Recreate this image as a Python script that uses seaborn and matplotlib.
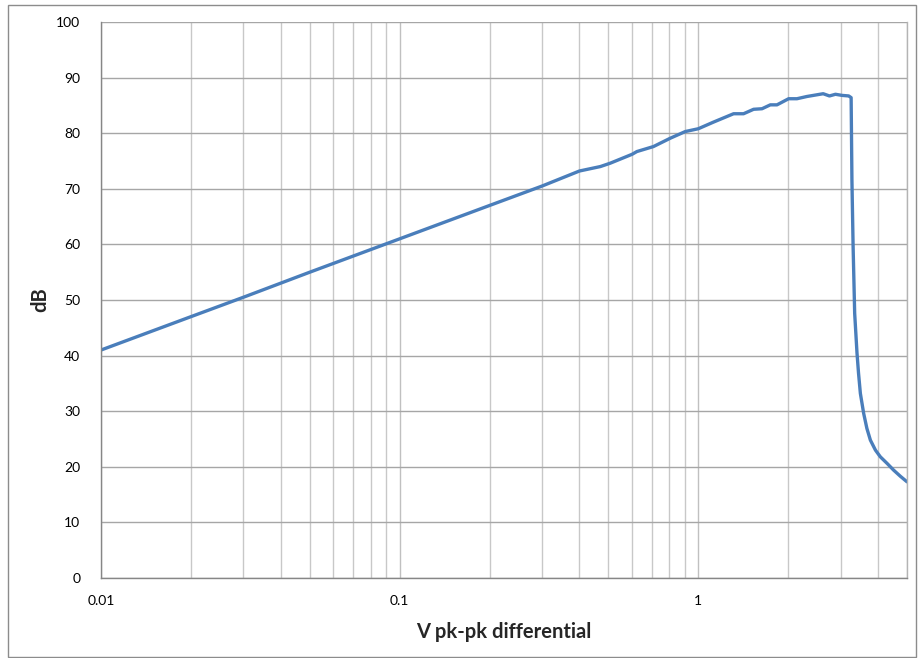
import matplotlib
matplotlib.use("Agg")
import matplotlib.pyplot as plt
from matplotlib.patches import Rectangle
from matplotlib.ticker import FixedLocator, FixedFormatter, NullFormatter
import seaborn as sns
import pandas as pd

# Data
volts = [0.01, 0.02, 0.03, 0.05, 0.1, 0.2, 0.3, 0.4, 0.47, 0.507, 0.60, 0.623,
         0.708, 0.806, 0.905, 1.0, 1.125, 1.313, 1.418, 1.532, 1.635, 1.743,
         1.835, 2.007, 2.14, 2.31, 2.62, 2.75, 2.88, 3.03, 3.19, 3.25, 3.27,
         3.30, 3.34, 3.40, 3.44, 3.49, 3.58, 3.67, 3.77, 3.92, 4.07, 4.29,
         4.51, 4.75, 5.0]
db = [41.0, 47.0, 50.5, 55.0, 61.0, 67.0, 70.5, 73.2, 74.0, 74.6, 76.2, 76.7,
      77.6, 79.1, 80.3, 80.8, 82.0, 83.5, 83.5, 84.3, 84.4, 85.1,
      85.1, 86.2, 86.2, 86.6, 87.1, 86.7, 87.0, 86.8, 86.7, 86.4, 71.6,
      59.6, 47.6, 40.5, 36.9, 33.2, 29.6, 26.9, 24.8, 23.0, 21.8, 20.6,
      19.4, 18.3, 17.3]

x_tick_values = [0.01, 0.1, 1]
x_tick_labels = ["0.01", "0.1", "1"]
y_tick_values = [0, 10, 20, 30, 40, 50, 60, 70, 80, 90, 100]
x_label = "V pk-pk differential"
y_label = "dB"

df = pd.DataFrame({"volts": volts, "db": db})

sns.set_style("white")
plt.rcParams["font.family"] = ["Lato", "DejaVu Sans"]

fig = plt.figure(figsize=(9.18, 6.58), dpi=100)
W, H = 918, 658
ax = fig.add_axes([101 / W, (H - 578) / H, (907 - 101) / W, (578 - 22) / H])

sns.lineplot(data=df, x="volts", y="db", ax=ax, color="#4A7EBB", linewidth=2.4,
             sort=False, estimator=None)

ax.set_xscale("log")
ax.set_xlim(0.01, 5)
ax.set_ylim(0, 100)

minor_x = [m * d for d in (0.01, 0.1, 1) for m in range(2, 10) if m * d <= 5.0001]
ax.xaxis.set_major_locator(FixedLocator(x_tick_values))
ax.xaxis.set_major_formatter(FixedFormatter(x_tick_labels))
ax.xaxis.set_minor_locator(FixedLocator(minor_x))
ax.xaxis.set_minor_formatter(NullFormatter())
ax.yaxis.set_major_locator(FixedLocator(y_tick_values))

ax.grid(True, which="major", axis="x", color="#C0C0C0", linewidth=1.0)
ax.grid(True, which="minor", axis="x", color="#C8C8C8", linewidth=1.0)
ax.grid(True, which="major", axis="y", color="#A6A6A6", linewidth=1.0)
ax.set_axisbelow(True)

ax.spines["top"].set_visible(False)
ax.spines["right"].set_visible(True)
ax.spines["right"].set_color("#B4B4B4")
ax.spines["right"].set_linewidth(1.0)
for side in ("left", "bottom"):
    ax.spines[side].set_color("#868686")
    ax.spines[side].set_linewidth(1.0)

ax.tick_params(axis="both", which="major", direction="out", length=5,
               width=1, color="#868686", labelsize=10, labelcolor="#000000")
ax.tick_params(axis="x", which="minor", length=0)
ax.tick_params(axis="x", which="major", pad=7)
ax.tick_params(axis="y", which="major", pad=10)

ax.set_xlabel(x_label, fontsize=14.5, fontweight="bold", labelpad=11)
ax.set_ylabel(y_label, fontsize=14.5, fontweight="bold", labelpad=30)
ax.yaxis.set_label_coords(-(101 - 50) / 806, 0.5)

fig.patches.append(Rectangle((8 / W, 1 / H), (916 - 8) / W, (653 - 1) / H,
                             transform=fig.transFigure, fill=False,
                             edgecolor="#8C8C8C", linewidth=1.0))

fig.savefig("out.png", dpi=100)
